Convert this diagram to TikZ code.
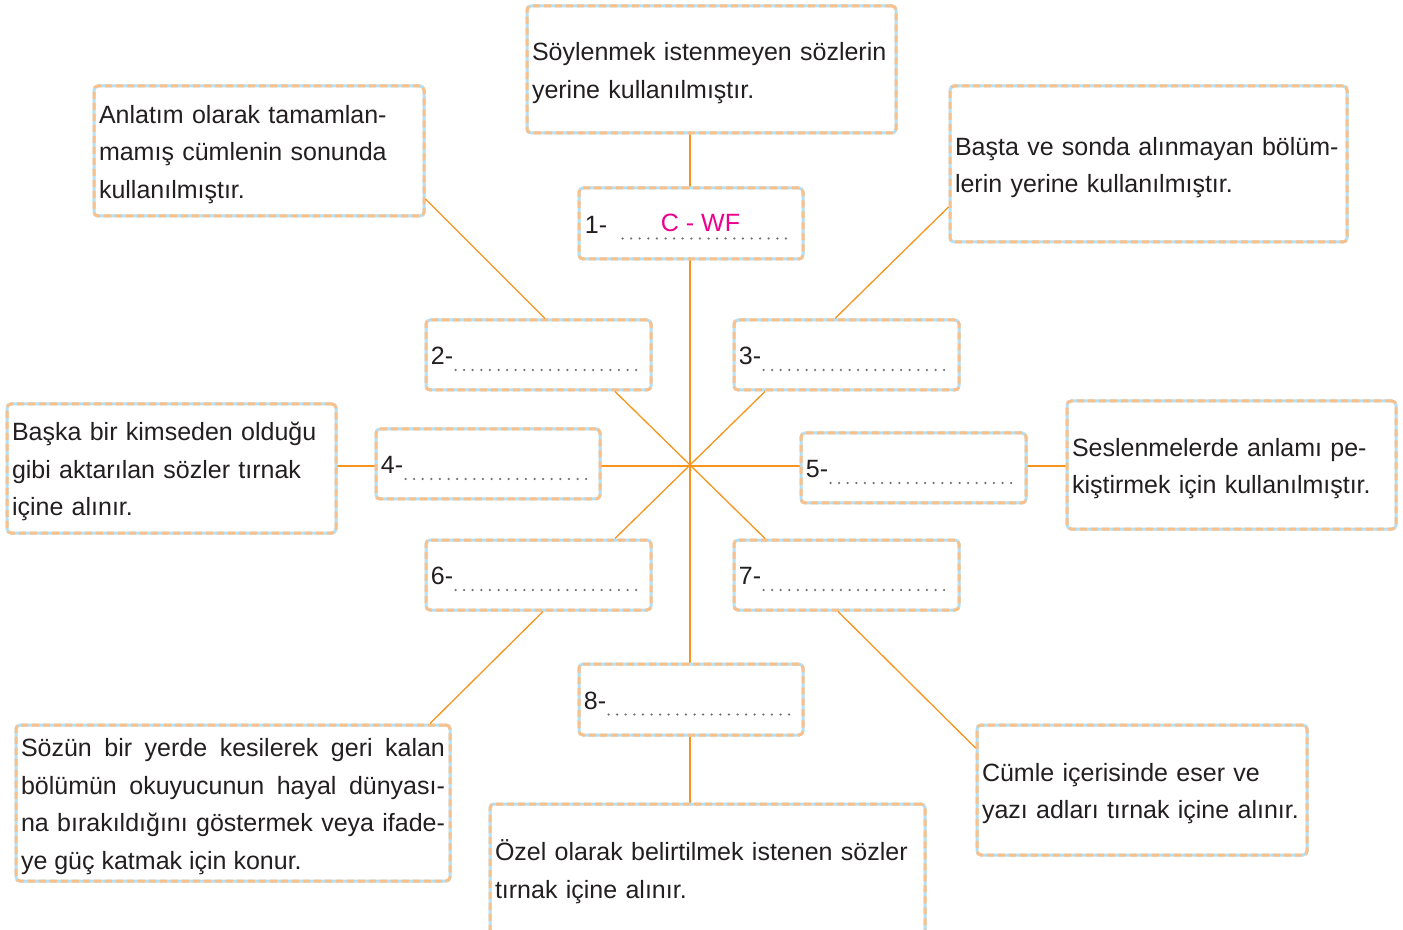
\documentclass[tikz,border=0pt]{standalone}
\usepackage{fontspec}
\setmainfont{Liberation Sans}
\usetikzlibrary{calc}
\definecolor{linkcolor}{RGB}{247,148,29}
\definecolor{dashorange}{RGB}{249,192,137}
\definecolor{dashblue}{RGB}{179,224,245}
\definecolor{answercolor}{RGB}{236,0,140}
\definecolor{textcolor}{RGB}{35,31,32}
\definecolor{dotcolor}{RGB}{115,115,115}
\tikzstyle{card} = [rectangle, rounded corners=2pt, draw=dashblue, line width=1.5pt, text=textcolor, inner xsep=2.5pt, inner ysep=0pt, font=\fontsize{12.5}{18.75}\selectfont, postaction={draw=dashorange, line width=1.5pt, dash pattern=on 3.5pt off 2pt}]
\tikzstyle{desc} = [card, execute at begin node={\rule{0pt}{12.5pt}}]
\tikzstyle{slot} = [card, minimum width=112.5pt, minimum height=35pt]
\tikzstyle{num} = [anchor=west, inner sep=0pt, text=textcolor, font=\fontsize{12.5}{18.75}\selectfont]
\tikzstyle{link} = [draw=linkcolor, line width=0.65pt]
\tikzstyle{dotline} = [draw=dotcolor, line width=1.25pt, line cap=round, dash pattern=on 0pt off 4.3pt]

\begin{document}
\begin{tikzpicture}[x=0.5pt, y=-0.5pt]

% Page
\fill[white] (0,0) rectangle (1403,930);
\useasboundingbox (0,0) rectangle (1403,930);
\coordinate (c) at (690,465);

% Connectors (behind the boxes)
\draw[link] (c |- 0,133) -- (c |- 0,188);
\draw[link] (c |- 0,259) -- (c |- 0,664);
\draw[link] (c |- 0,735) -- (c |- 0,804);
\draw[link] (336,466) -- (376,466);
\draw[link] (600,466) -- (801,466);
\draw[link] (1026,466) -- (1067,466);

% Description boxes
\node[desc, minimum width=184.5pt, minimum height=63.5pt, text width=179.5pt, align=left] (top) at (711.5,69.5) {Söylenmek istenmeyen sözlerin\\yerine kullanılmıştır.};
\node[desc, minimum width=165pt, minimum height=65pt, text width=160pt, align=left] (tl) at (259,151) {Anlatım olarak tamamlan-\\mamış cümlenin sonunda\\kullanılmıştır.};
\node[desc, minimum width=198.5pt, minimum height=78pt, text width=193.5pt, align=left] (tr) at (1148.5,164) {Başta ve sonda alınmayan bölüm-\\lerin yerine kullanılmıştır.};
\node[desc, minimum width=164.5pt, minimum height=64.5pt, text width=159.5pt, align=left] (left) at (171.5,468.5) {Başka bir kimseden olduğu\\gibi aktarılan sözler tırnak\\içine alınır.};
\node[desc, minimum width=164.5pt, minimum height=64pt, text width=159.5pt, align=left] (right) at (1231.5,465) {Seslenmelerde anlamı pe-\\kiştirmek için kullanılmıştır.};
\node[desc, minimum width=217pt, minimum height=78pt, text width=212pt, align=justify] (bl) at (233,803) {Sözün bir yerde kesilerek geri kalan\linebreak bölümün okuyucunun hayal dünyası-\linebreak na bırakıldığını göstermek veya ifade-\linebreak ye güç katmak için konur.};
\node[desc, minimum width=165pt, minimum height=65pt, text width=160pt, align=left] (br) at (1142,790) {Cümle içerisinde eser ve\\yazı adları tırnak içine alınır.};
\node[desc, minimum width=217.5pt, minimum height=65.5pt, text width=212.5pt, align=left] (bot) at (707.5,869.5) {Özel olarak belirtilmek istenen sözler\\tırnak içine alınır.};

% Numbered boxes
\node[slot, minimum width=112pt, minimum height=35.5pt] (n1) at (691,223.5) {};
\node[slot] (n2) at (538.5,355) {};
\node[slot] (n3) at (846.5,355) {};
\node[slot, minimum width=112pt] (n4) at (488,464) {};
\node[slot] (n5) at (913.5,468) {};
\node[slot] (n6) at (538.5,575) {};
\node[slot] (n7) at (846.5,575) {};
\node[slot, minimum width=112pt, minimum height=35.5pt] (n8) at (691,699.5) {};

% Numbers and blanks
\node[num] (l1) at ([shift={(7,1)}]n1.west) {1-};
\node[num] (l2) at ([shift={(6,1)}]n2.west) {2-};
\node[num] (l3) at ([shift={(6,1)}]n3.west) {3-};
\node[num] (l4) at ([shift={(6,1)}]n4.west) {4-};
\node[num] (l5) at ([shift={(6,1)}]n5.west) {5-};
\node[num] (l6) at ([shift={(6,1)}]n6.west) {6-};
\node[num] (l7) at ([shift={(6,1)}]n7.west) {7-};
\node[num] (l8) at ([shift={(6,1)}]n8.west) {8-};
\draw[dotline] ([shift={(15,14)}]l1.east) -- ([shift={(-10,15)}]n1.east);
\draw[dotline] ([shift={(2,14)}]l2.east) -- ([shift={(-11,15)}]n2.east);
\draw[dotline] ([shift={(2,14)}]l3.east) -- ([shift={(-11,15)}]n3.east);
\draw[dotline] ([shift={(2,14)}]l4.east) -- ([shift={(-10,15)}]n4.east);
\draw[dotline] ([shift={(2,14)}]l5.east) -- ([shift={(-11,15)}]n5.east);
\draw[dotline] ([shift={(2,14)}]l6.east) -- ([shift={(-11,15)}]n6.east);
\draw[dotline] ([shift={(2,14)}]l7.east) -- ([shift={(-11,15)}]n7.east);
\draw[dotline] ([shift={(2,14)}]l8.east) -- ([shift={(-10,15)}]n8.east);
\node[text=answercolor, font=\fontsize{12.5}{18.75}\selectfont, inner sep=0pt] (ans) at (700.5,223) {C - WF};

% Cross through the centre
\draw[link] (615,0 |- n2.south) -- (c) -- (765,0 |- n7.north);
\draw[link] (765,0 |- n3.south) -- (c) -- (615,0 |- n6.north);

% Diagonal links to the description boxes
\draw[link] (tl.east |- 0,199) -- (545,0 |- n2.north);
\draw[link] (tr.west |- 0,207) -- (835,0 |- n3.north);
\draw[link] (543,0 |- n6.south) -- (430,0 |- bl.north);
\draw[link] (838,0 |- n7.south) -- (br.west |- 0,748);

\end{tikzpicture}
\end{document}
